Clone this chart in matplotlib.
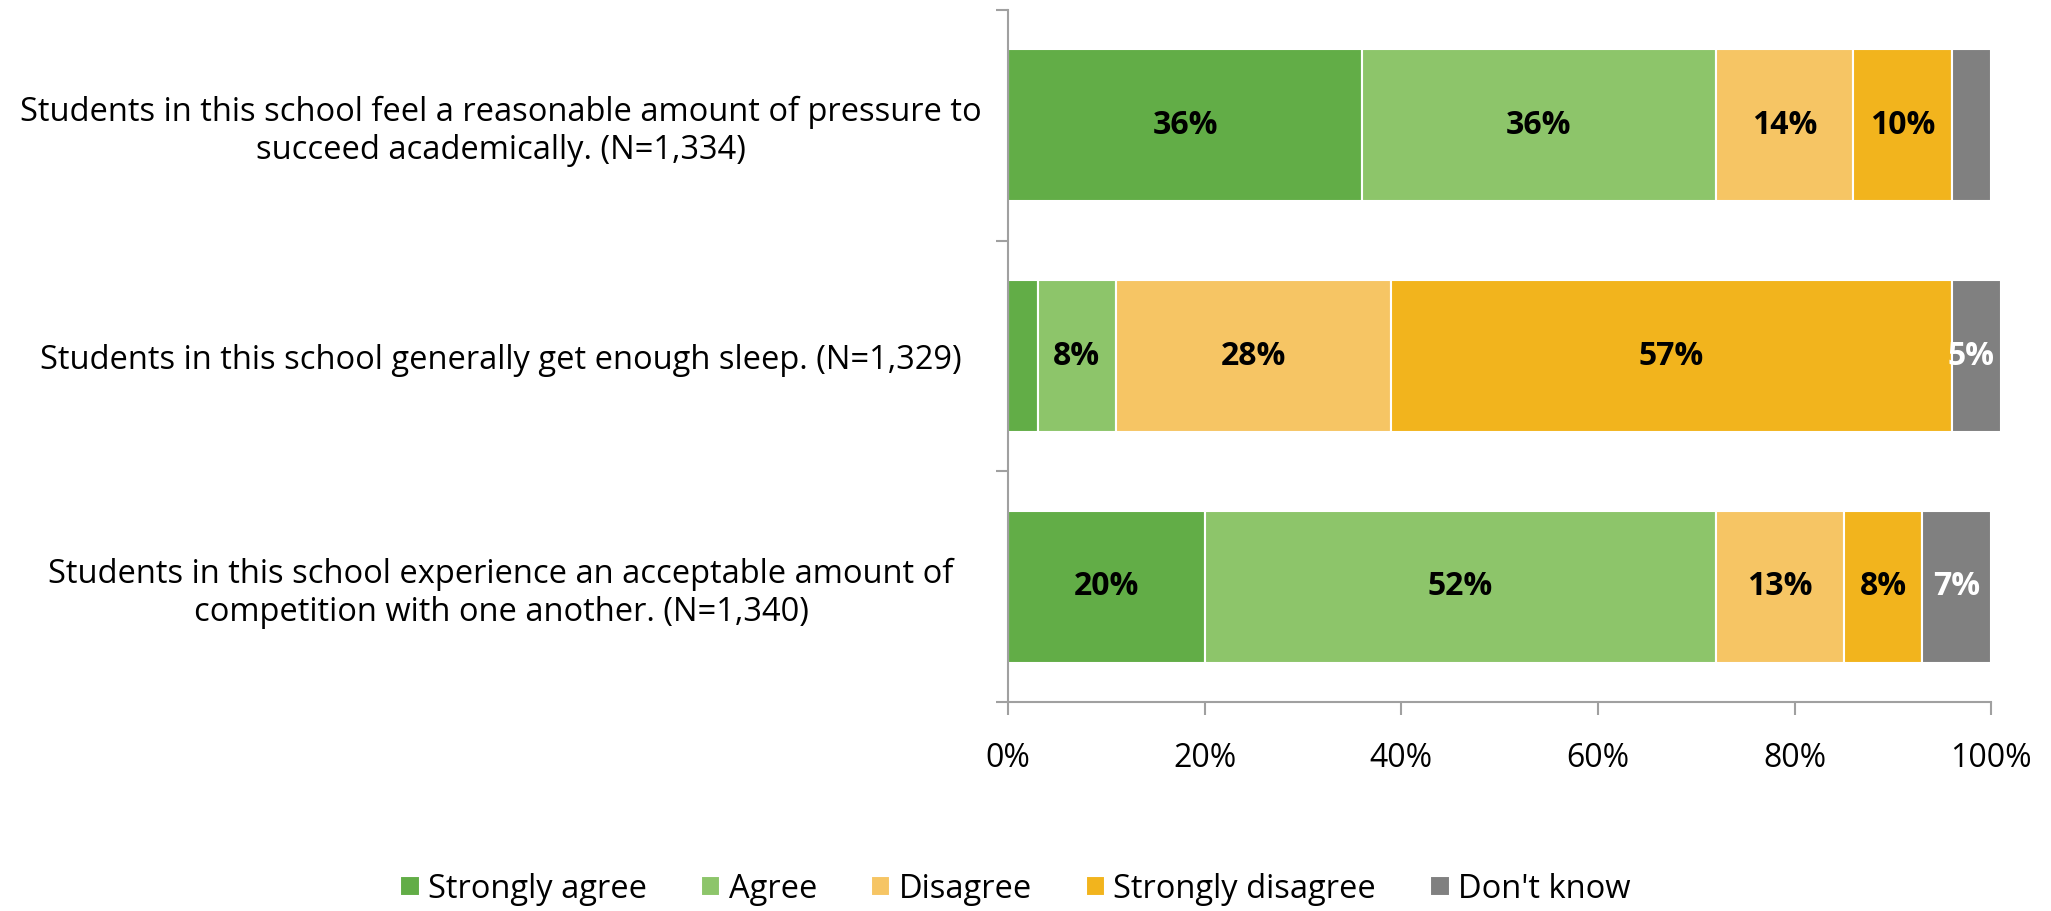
import matplotlib.pyplot as plt
import numpy as np

plt.rcParams['font.family'] = ['Open Sans', 'DejaVu Sans']

statements = [
    'Students in this school feel a reasonable amount of pressure to\nsucceed academically. (N=1,334)',
    'Students in this school generally get enough sleep. (N=1,329)',
    'Students in this school experience an acceptable amount of\ncompetition with one another. (N=1,340)',
]
responses = ['Strongly agree', 'Agree', 'Disagree', 'Strongly disagree', "Don't know"]
strongly_agree = [36, 3, 20]
agree = [36, 8, 52]
disagree = [14, 28, 13]
strongly_disagree = [10, 57, 8]
dont_know = [4, 5, 7]

colors = ['#62ad47', '#8dc56a', '#f6c564', '#f2b41d', '#808080']
label_colors = ['black', 'black', 'black', 'black', 'white']

fig = plt.figure(figsize=(20.51, 9.11), dpi=100)
ax = fig.add_axes([0.4915, 0.2294, 0.4793, 0.7596])

y = np.arange(len(statements))
left = np.zeros(len(statements))
series = [strongly_agree, agree, disagree, strongly_disagree, dont_know]
for vals, name, c, lc in zip(series, responses, colors, label_colors):
    bars = ax.barh(y, vals, left=left, height=0.66, color=c, edgecolor='white',
                   linewidth=1.5, label=name, clip_on=False)
    labels = [f'{v}%' if v >= 5 else '' for v in vals]
    txts = ax.bar_label(bars, labels=labels, label_type='center', color=lc,
                        fontsize=23, fontweight='bold')
    for t in txts:
        t.set_clip_on(True)
    left += np.array(vals)

ax.set_xlim(0, 100)
ax.set_ylim(len(statements) - 0.5, -0.5)
ax.set_xticks(np.arange(0, 101, 20))
ax.set_xticklabels([f'{t}%' for t in range(0, 101, 20)], fontsize=23)

ax.set_yticks(y)
ax.set_yticklabels(statements, fontsize=23.5, ha='center', multialignment='center')
ax.set_yticks(np.arange(-0.5, len(statements), 1), minor=True)
ax.tick_params(axis='y', which='major', length=0, pad=365)
ax.tick_params(axis='y', which='minor', length=9, color='#a0a0a0', width=1.5)
ax.tick_params(axis='x', length=9, color='#a0a0a0', width=1.5, pad=20)

for s in ['top', 'right']:
    ax.spines[s].set_visible(False)
for s in ['left', 'bottom']:
    ax.spines[s].set_color('#a0a0a0')
    ax.spines[s].set_linewidth(1.5)

fig.legend(loc='center', bbox_to_anchor=(0.495, 0.024), ncol=5, frameon=False,
           fontsize=23.5, handlelength=0.6, handleheight=0.6, columnspacing=1.65,
           handletextpad=0.25)

fig.savefig('out.png', dpi=100)
